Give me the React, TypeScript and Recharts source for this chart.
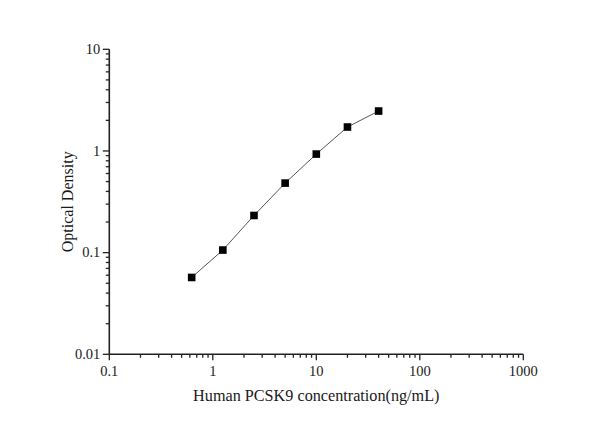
import React from 'react';
import { ScatterChart, Scatter, XAxis, YAxis } from 'recharts';

const concentrations = [0.625, 1.25, 2.5, 5, 10, 20, 40];
const opticalDensity = [0.057, 0.106, 0.232, 0.483, 0.932, 1.72, 2.47];

const xMajorTicks = [0.1, 1, 10, 100, 1000];
const yMajorTicks = [0.01, 0.1, 1, 10];
const minorMultipliers = [2, 3, 4, 5, 6, 7, 8, 9];

const xLabel = 'Human PCSK9 concentration(ng/mL)';
const yLabel = 'Optical Density';

const data = concentrations.map((c, i) => ({ x: c, y: opticalDensity[i] }));

function withMinor(majors: number[]) {
  const out: number[] = [];
  majors.forEach((m, i) => {
    out.push(m);
    if (i < majors.length - 1) minorMultipliers.forEach((k) => out.push(+(m * k).toPrecision(6)));
  });
  return out;
}

const isMajor = (v: number, majors: number[]) => majors.some((m) => Math.abs(m - v) < 1e-9);

const FONT = '"Liberation Serif", "Times New Roman", serif';
const AXIS = '#222';
const TEXT = '#1a1a1a';
const TICK_FONT = 14.5;

function renderXTick(props: any) {
  const { x, y, payload } = props;
  const major = isMajor(payload.value, xMajorTicks);
  return (
    <g key={`xt-${payload.value}`}>
      <line x1={x} y1={y} x2={x} y2={y + (major ? 6 : 3.5)} stroke={AXIS} strokeWidth={1.3} />
      {major && (
        <text x={x} y={y + 21.5} textAnchor="middle" fontFamily={FONT} fontSize={TICK_FONT} fill={TEXT}>
          {String(payload.value)}
        </text>
      )}
    </g>
  );
}

function renderYTick(props: any) {
  const { x, y, payload } = props;
  const major = isMajor(payload.value, yMajorTicks);
  return (
    <g key={`yt-${payload.value}`}>
      <line x1={x} y1={y} x2={x - (major ? 6.5 : 3.5)} y2={y} stroke={AXIS} strokeWidth={1.3} />
      {major && (
        <text x={x - 9} y={y + 4.8} textAnchor="end" fontFamily={FONT} fontSize={TICK_FONT} fill={TEXT}>
          {String(payload.value)}
        </text>
      )}
    </g>
  );
}

const Square = (props: any) => {
  const { cx, cy } = props;
  return <rect x={cx - 3.8} y={cy - 3.8} width={7.6} height={7.6} fill="#000" />;
};

export default function App() {
  return (
    <div style={{ width: 600, height: 417, background: '#fff' }}>
      <ScatterChart
        width={600}
        height={417}
        margin={{ top: 41.3, right: 84.7, left: 41.3, bottom: 30.7 }}
      >
        <XAxis
          type="number"
          dataKey="x"
          scale="log"
          domain={[0.1, 1000]}
          allowDataOverflow
          ticks={withMinor(xMajorTicks)}
          interval={0}
          tick={renderXTick}
          tickLine={false}
          tickSize={0}
          tickMargin={0}
          height={40}
          axisLine={{ stroke: AXIS, strokeWidth: 1.6 }}
          label={{
            content: (p: any) => {
              const vb = p.viewBox;
              return (
                <text x={vb.x + vb.width / 2} y={vb.y + 46.4} textAnchor="middle" fontFamily={FONT} fontSize={16.2} fill={TEXT}>
                  {xLabel}
                </text>
              );
            },
          }}
        />
        <YAxis
          type="number"
          dataKey="y"
          scale="log"
          domain={[0.01, 10]}
          allowDataOverflow
          ticks={withMinor(yMajorTicks)}
          interval={0}
          tick={renderYTick}
          tickLine={false}
          tickSize={0}
          tickMargin={0}
          width={60}
          axisLine={{ stroke: AXIS, strokeWidth: 1.6 }}
          label={{
            content: (p: any) => {
              const vb = p.viewBox;
              const cx = 60;
              const cy = vb.y + vb.height / 2;
              return (
                <text
                  x={cx}
                  y={cy}
                  transform={`rotate(-90 ${cx} ${cy})`}
                  textAnchor="middle"
                  dominantBaseline="central"
                  fontFamily={FONT}
                  fontSize={16}
                  fill={TEXT}
                >
                  {yLabel}
                </text>
              );
            },
          }}
        />
        <Scatter
          data={data}
          isAnimationActive={false}
          line={{ stroke: '#555', strokeWidth: 1 }}
          shape={<Square />}
        />
      </ScatterChart>
    </div>
  );
}
